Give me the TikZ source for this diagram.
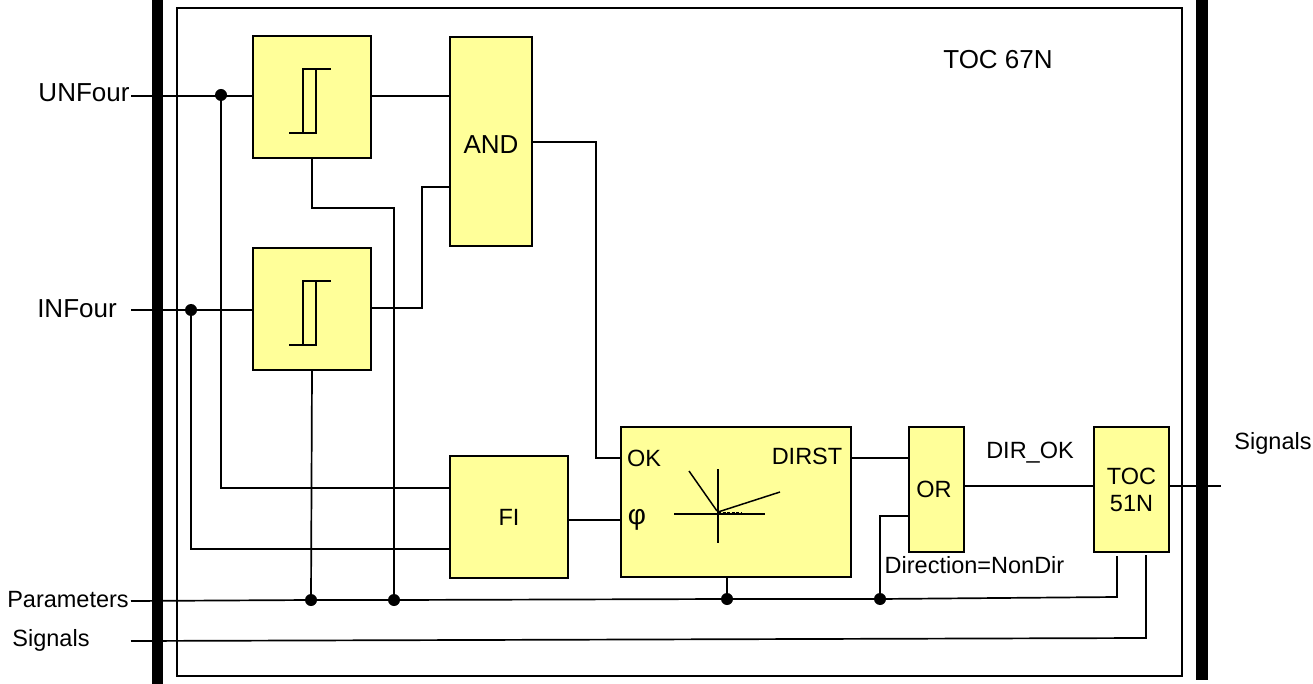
\documentclass[tikz,border=0pt]{standalone}
\usepackage{fontspec}
\setmainfont{Liberation Sans}
\usetikzlibrary{positioning, calc}
\definecolor{block_yellow}{HTML}{FFFF99}
\tikzset{
    block_style/.style={
        rectangle,            % yellow function block
        draw=black,
        line width=2.8pt,
        fill=block_yellow,
        inner sep=0pt,
        outer sep=0pt,
        align=center,
        font=\fontsize{23.5}{27}\selectfont
    },
    bar_style/.style={
        rectangle,            % thick vertical bus bar
        fill=black,
        inner sep=0pt,
        outer sep=0pt,
        minimum width=11.5pt
    },
    wire_style/.style={
        line width=1.7pt,
        line join=miter
    },
    icon_style/.style={
        line width=1.5pt
    },
    dot_style/.style={
        circle,
        fill=black,
        inner sep=0pt,
        minimum size=12pt
    },
    label_style/.style={
        inner sep=0pt,
        font=\fontsize{23.5}{27}\selectfont
    },
    big_label_style/.style={
        inner sep=0pt,
        font=\fontsize{26}{29}\selectfont
    }
}
\begin{document}
\begin{tikzpicture}[x=1pt, y=-1pt]
    \useasboundingbox (0,0) rectangle (1313,684);
    % 1. frame and bus bars
    \node[draw=black, line width=1.7pt, minimum width=1005pt, minimum height=668pt, inner sep=0pt, outer sep=0pt] (frame) at (679.5,342) {};
    \node[bar_style, minimum height=684pt] (bar_left) at (157.5,342) {};
    \node[bar_style, minimum height=680pt] (bar_right) at (1202,340) {};

    % 2. blocks
    \node[block_style, minimum width=118pt, minimum height=122pt] (hyst_u) at (312,97) {};
    \node[block_style, minimum width=118pt, minimum height=122pt] (hyst_i) at (312,309) {};
    \node[block_style, minimum width=82pt, minimum height=209pt] (and_gate) at (491,141.5) {};
    \node[block_style, minimum width=118pt, minimum height=122pt] (fi_block) at (509,517) {FI};
    \node[block_style, minimum width=230pt, minimum height=150pt] (dir_block) at (736,502) {};
    \node[block_style, minimum width=55pt, minimum height=125pt] (or_gate) at (936.5,489.5) {};
    \node[block_style, minimum width=75pt, minimum height=125pt] (toc_block) at (1131.5,489.5) {TOC\\51N};

    % 3. texts
    \node[big_label_style] (lbl_un) at (84,93) {UNFour};
    \node[big_label_style] (lbl_in) at (77,309) {INFour};
    \node[label_style] (lbl_par) at (68,600) {Parameters};
    \node[label_style] (lbl_sig) at (51,640) {Signals};
    \node[label_style] (lbl_out) at (1273,443) {Signals};
    \node[big_label_style] (lbl_toc) at (998,60) {TOC 67N};
    \node[big_label_style] (lbl_and) at (491,145) {AND};
    \node[label_style] (lbl_or) at (934,489) {OR};
    \node[label_style] (lbl_dirok) at (1030,453) {DIR\_OK};
    \node[label_style] (lbl_nondir) at (974.5,565) {Direction=NonDir};
    \node[label_style] (lbl_ok) at (644,458) {OK};
    \node[label_style] (lbl_dirst) at (807,456) {DIRST};
    \node[label_style, font=\fontsize{28}{30}\selectfont] (lbl_phi) at (637,520) {φ};

    % 4. junctions and free wire ends
    \node[dot_style] (dot_un) at (221,95) {};
    \node[dot_style] (dot_in) at (191,310) {};
    \node[dot_style] (dot_a) at (311,600) {};
    \node[dot_style] (dot_b) at (394,600) {};
    \node[dot_style] (dot_c) at (727,599) {};
    \node[dot_style] (dot_d) at (880,599) {};
    \coordinate (un_in) at (131,96);
    \coordinate (in_in) at (131,310);
    \coordinate (par_in) at (131,601);
    \coordinate (sig_in) at (131,641);
    \coordinate (out_end) at (1221,486);
    \coordinate (par_end) at (1117,597);
    \coordinate (sig_end) at (1146,638);

    % 5. wires
    \draw[wire_style] (un_in) -- (hyst_u.west |- un_in);
    \draw[wire_style] (in_in) -- (hyst_i.west |- in_in);
    \draw[wire_style] (dot_un) -- (dot_un |- 0,488) -- (fi_block.west |- 0,488);
    \draw[wire_style] (dot_in) -- (dot_in |- 0,549) -- (fi_block.west |- 0,549);
    \draw[wire_style] (hyst_u.east |- 0,96) -- (and_gate.west |- 0,96);
    \draw[wire_style] (hyst_u.south) -- (312,208) -- (dot_b |- 0,208) -- (dot_b);
    \draw[wire_style] (hyst_i.east |- 0,308) -- (422,308) -- (422,187) -- (and_gate.west |- 0,187);
    \draw[wire_style] (hyst_i.south) -- (dot_a);
    \draw[wire_style] (and_gate.east |- 0,142) -- (596,142) -- (596,458) -- (dir_block.west |- 0,458);
    \draw[wire_style] (fi_block.east |- 0,520) -- (dir_block.west |- 0,520);
    \draw[wire_style] (dir_block.east |- 0,458) -- (or_gate.west |- 0,458);
    \draw[wire_style] (dir_block.south -| dot_c) -- (dot_c);
    \draw[wire_style] (or_gate.west |- 0,516) -- (dot_d |- 0,516) -- (dot_d);
    \draw[wire_style] (or_gate.east |- 0,486) -- (toc_block.west |- 0,486);
    \draw[wire_style] (toc_block.east |- 0,486) -- (out_end);
    \draw[wire_style] (par_in) -- (dot_a) -- (dot_b) -- (dot_c) -- (dot_d) -- (par_end) -- (1117,556);
    \draw[wire_style] (sig_in) -- (sig_end) -- (1146,555);

    % 6. hysteresis and angle symbols
    \foreach \blk in {hyst_u, hyst_i} {
        \draw[icon_style] ([shift={(-23,36)}]\blk.center) -- ++(27,0) -- ++(0,-64);
        \draw[icon_style] ([shift={(-9,36)}]\blk.center) -- ++(0,-64) -- ++(28,0);
    }
    \coordinate (ang_o) at ([shift={(-18,12)}]dir_block.center);
    \draw[icon_style] (ang_o -| 674,0) -- (ang_o -| 765,0);
    \draw[icon_style] (718,469) -- (718,543);
    \draw[icon_style] (717,511) -- (689,471);
    \draw[icon_style] (718,512) -- (780,492);
    \draw[line width=0.8pt, dash pattern=on 3pt off 1.5pt] (718,512) -- (741,512);
\end{tikzpicture}
\end{document}
